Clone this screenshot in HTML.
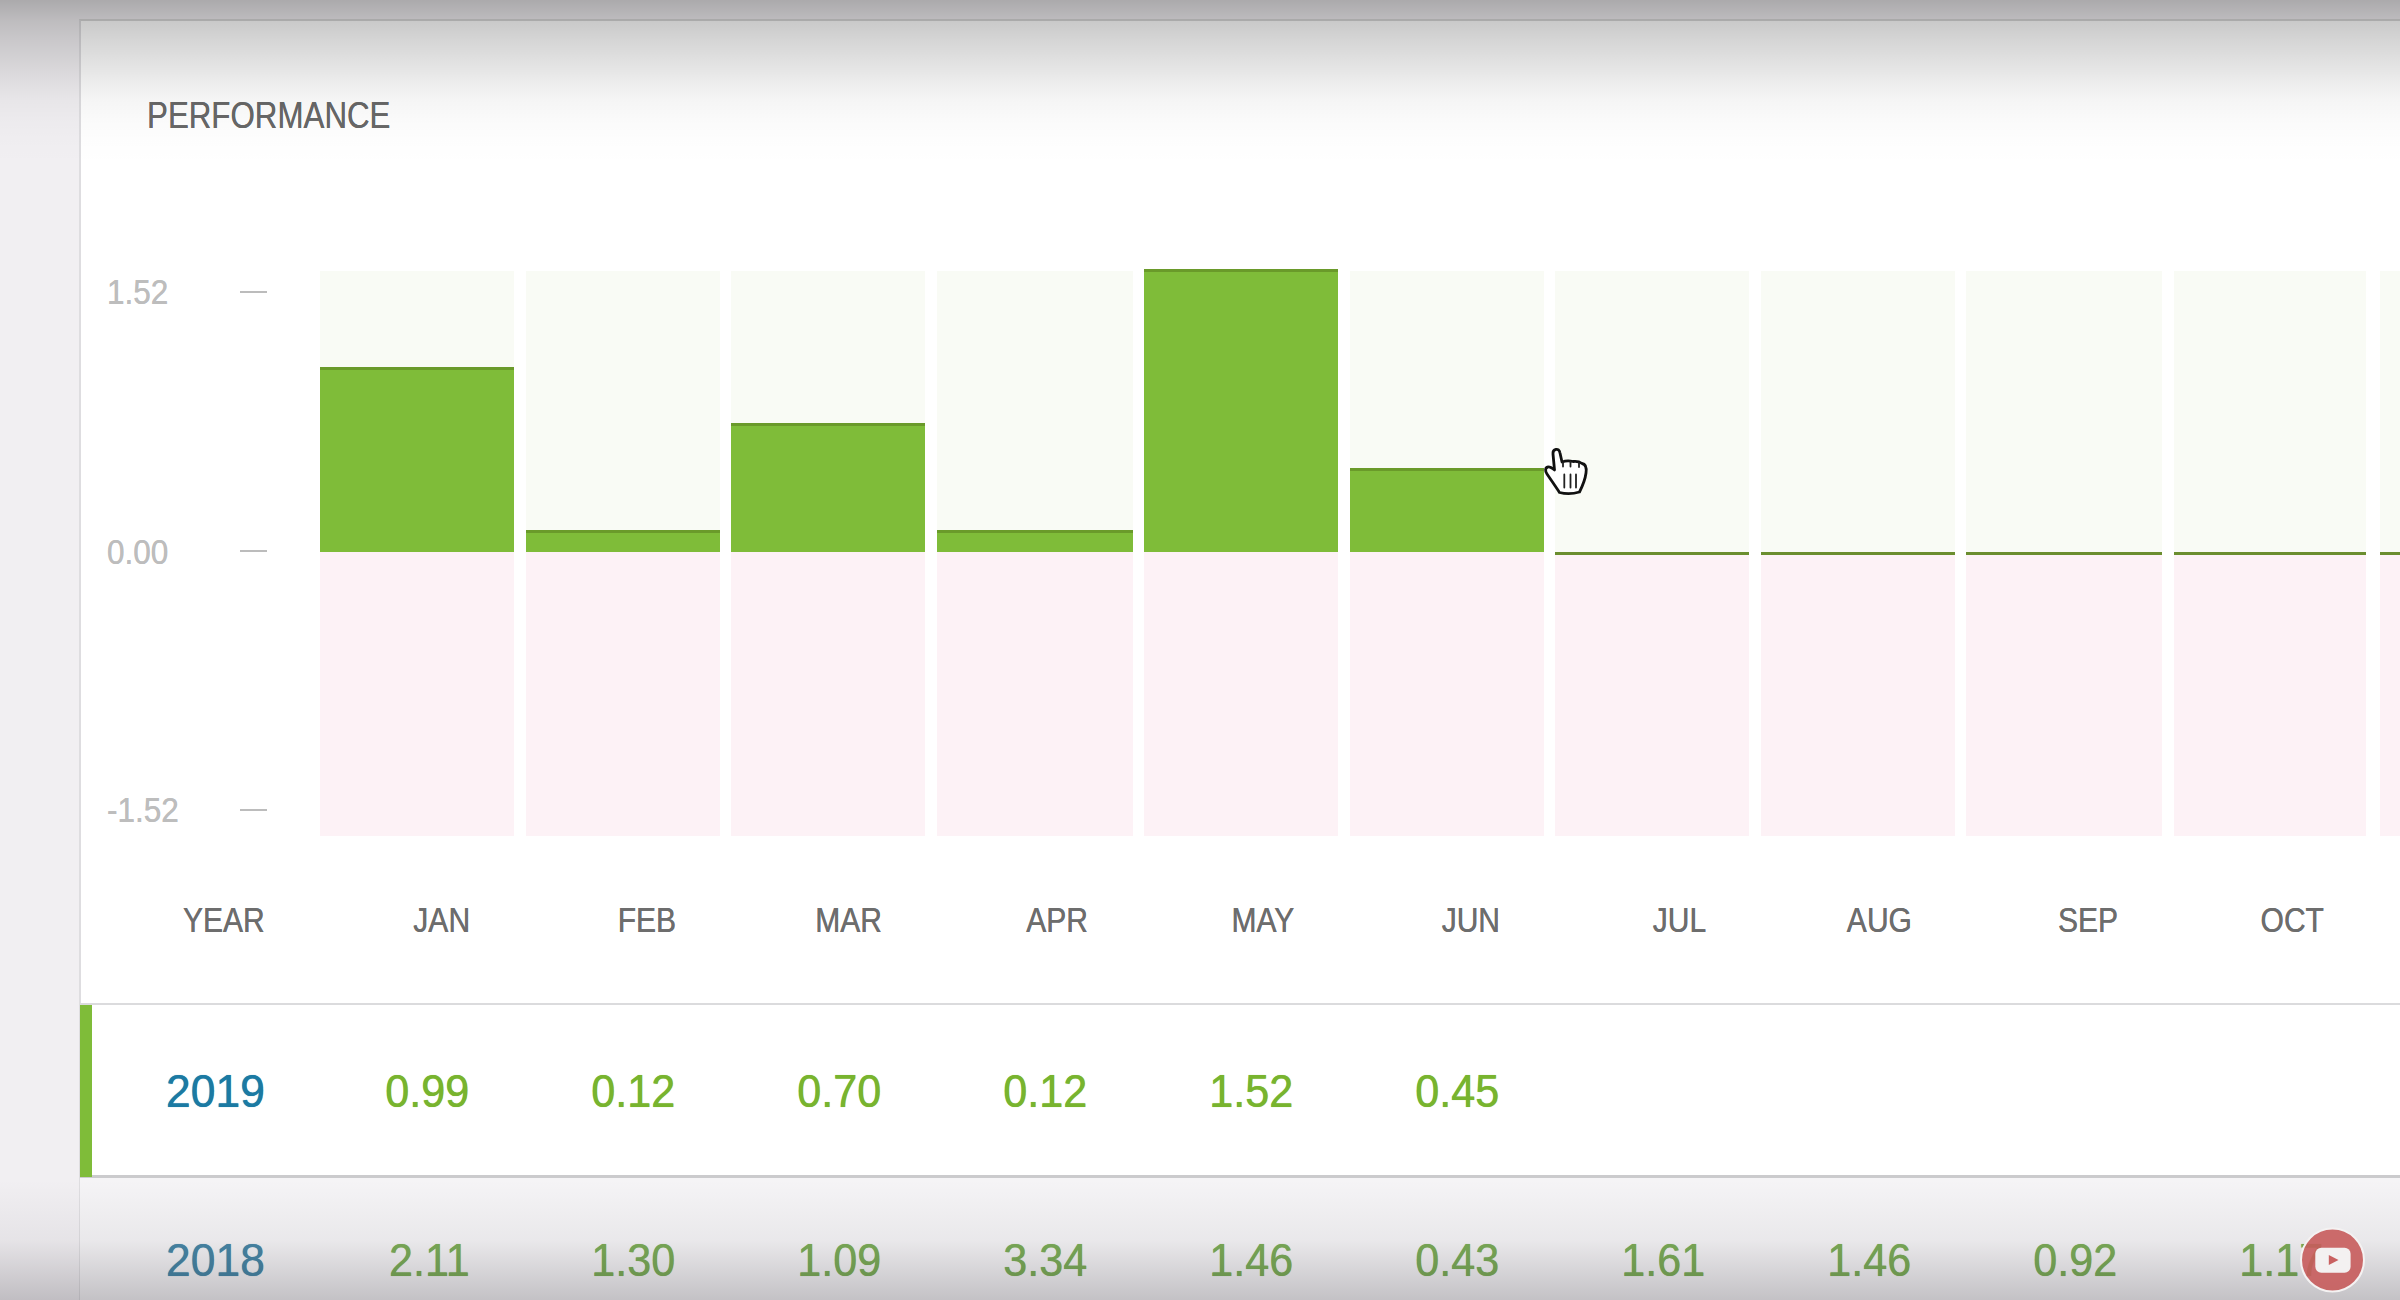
<!DOCTYPE html>
<html><head><meta charset="utf-8">
<style>
html,body{margin:0;padding:0;width:2400px;height:1300px;overflow:hidden;background:#f1eff2;}
body{position:relative;font-family:"Liberation Sans",sans-serif;}
#w{position:absolute;left:-12px;top:-12px;width:2424px;height:1324px;background:#f1eff2;}
#in{position:absolute;left:12px;top:12px;width:2400px;height:1300px;}
.abs{position:absolute;}
#card{position:absolute;left:79px;top:19px;width:2400px;height:1300px;background:#fff;border-left:2px solid #dedde0;border-top:2px solid #d8d8d8;box-sizing:border-box;}
.t{position:absolute;white-space:nowrap;line-height:1;-webkit-text-stroke:0.2px currentColor;text-shadow:0 0 0.7px currentColor;}
.col{position:absolute;top:271px;height:565px;width:194px;}
.col .up{position:absolute;left:0;top:0;width:100%;height:281px;background:#f9fbf5;}
.col .dn{position:absolute;left:0;top:281px;width:100%;height:284px;background:#fdf2f6;}
.bar{position:absolute;left:0;width:100%;background:#7fbc39;border-top:3px solid #6a9a2a;box-sizing:border-box;}
.zl{position:absolute;left:0;width:100%;top:281px;height:3px;background:#6b8e2f;}
.tick{position:absolute;left:240px;width:27px;height:2px;background:#bcbcbc;}
.ax{font-size:35px;color:#bdbdbd;transform-origin:0 0;transform:scaleX(0.9);left:106.5px;}
.mo{font-size:35.5px;color:#6d6d6d;transform-origin:100% 0;transform:scaleX(0.846);}
.num{font-size:45.8px;transform-origin:100% 0;transform:scaleX(0.941);}
.b{transform:scaleX(0.97);}
.g{color:#78b42e;}
.g2{color:#7cad58;-webkit-text-stroke:0;}
.b{color:#1b7aa3;}
</style></head><body>
<div id="w"><div id="in">
<div id="card"></div>
<div class="t" style="left:147px;top:97px;font-size:37px;color:#686868;-webkit-text-stroke:0;transform-origin:0 0;transform:scaleX(0.846);">PERFORMANCE</div>

<!-- axis -->
<div class="t ax" style="top:274px;">1.52</div>
<div class="t ax" style="top:533.5px;">0.00</div>
<div class="t ax" style="top:792px;">-1.52</div>
<div class="tick" style="top:291px;"></div>
<div class="tick" style="top:550px;"></div>
<div class="tick" style="top:809px;"></div>

<!-- columns -->
<div class="col" style="left:320px;"><div class="up"></div><div class="dn"></div><div class="bar" style="top:96px;height:185px;"></div></div>
<div class="col" style="left:526px;"><div class="up"></div><div class="dn"></div><div class="bar" style="top:259px;height:22px;"></div></div>
<div class="col" style="left:731px;"><div class="up"></div><div class="dn"></div><div class="bar" style="top:152px;height:129px;"></div></div>
<div class="col" style="left:937px;width:196px;"><div class="up"></div><div class="dn"></div><div class="bar" style="top:259px;height:22px;"></div></div>
<div class="col" style="left:1144px;"><div class="up"></div><div class="dn"></div><div class="bar" style="top:-2px;height:283px;"></div></div>
<div class="col" style="left:1350px;"><div class="up"></div><div class="dn"></div><div class="bar" style="top:197px;height:84px;"></div></div>
<div class="col" style="left:1555px;"><div class="up"></div><div class="dn"></div><div class="zl"></div></div>
<div class="col" style="left:1761px;"><div class="up"></div><div class="dn"></div><div class="zl"></div></div>
<div class="col" style="left:1966px;width:196px;"><div class="up"></div><div class="dn"></div><div class="zl"></div></div>
<div class="col" style="left:2174px;width:192px;"><div class="up"></div><div class="dn"></div><div class="zl"></div></div>
<div class="col" style="left:2380px;"><div class="up"></div><div class="dn"></div><div class="zl"></div></div>

<!-- month labels (right aligned) -->
<div class="t mo" style="right:2135px;top:903px;">YEAR</div>
<div class="t mo" style="right:1930px;top:903px;">JAN</div>
<div class="t mo" style="right:1724px;top:903px;">FEB</div>
<div class="t mo" style="right:1518px;top:903px;">MAR</div>
<div class="t mo" style="right:1312px;top:903px;">APR</div>
<div class="t mo" style="right:1106px;top:903px;">MAY</div>
<div class="t mo" style="right:900px;top:903px;">JUN</div>
<div class="t mo" style="right:694px;top:903px;">JUL</div>
<div class="t mo" style="right:488px;top:903px;">AUG</div>
<div class="t mo" style="right:282px;top:903px;">SEP</div>
<div class="t mo" style="right:76px;top:903px;">OCT</div>

<!-- rows -->
<div class="abs" style="left:80px;top:1003px;width:2320px;height:2px;background:#dbdbdd;"></div>
<div class="abs" style="left:80px;top:1178px;width:2320px;height:122px;background:#f5f4f6;"></div>
<div class="abs" style="left:80px;top:1175px;width:2320px;height:3px;background:#cbcbcd;"></div>
<div class="abs" style="left:80px;top:1005px;width:12px;height:172px;background:#7fbc39;"></div>

<div class="t num b" style="right:2135.5px;top:1068.5px;">2019</div>
<div class="t num g" style="right:1930.5px;top:1068.5px;">0.99</div>
<div class="t num g" style="right:1724.5px;top:1068.5px;">0.12</div>
<div class="t num g" style="right:1518.5px;top:1068.5px;">0.70</div>
<div class="t num g" style="right:1312.5px;top:1068.5px;">0.12</div>
<div class="t num g" style="right:1106.5px;top:1068.5px;">1.52</div>
<div class="t num g" style="right:900.5px;top:1068.5px;">0.45</div>

<div class="t num b" style="right:2135.5px;top:1237.5px;color:#4787a7;-webkit-text-stroke:0;">2018</div>
<div class="t num g2" style="right:1930.5px;top:1237.5px;">2.11</div>
<div class="t num g2" style="right:1724.5px;top:1237.5px;">1.30</div>
<div class="t num g2" style="right:1518.5px;top:1237.5px;">1.09</div>
<div class="t num g2" style="right:1312.5px;top:1237.5px;">3.34</div>
<div class="t num g2" style="right:1106.5px;top:1237.5px;">1.46</div>
<div class="t num g2" style="right:900.5px;top:1237.5px;">0.43</div>
<div class="t num g2" style="right:694.5px;top:1237.5px;">1.61</div>
<div class="t num g2" style="right:488.5px;top:1237.5px;">1.46</div>
<div class="t num g2" style="right:282.5px;top:1237.5px;">0.92</div>
<div class="t num g2" style="right:76.5px;top:1237.5px;">1.17</div>

<!-- vignettes -->
<div class="abs" style="left:-12px;top:-12px;width:2424px;height:182px;background:linear-gradient(to bottom,rgba(0,0,0,0.30) 0px,rgba(0,0,0,0.29) 12px,rgba(0,0,0,0.22) 31px,rgba(0,0,0,0.21) 33px,rgba(0,0,0,0.165) 52px,rgba(0,0,0,0.12) 72px,rgba(0,0,0,0.078) 92px,rgba(0,0,0,0.04) 112px,rgba(0,0,0,0.02) 132px,rgba(0,0,0,0.008) 152px,rgba(0,0,0,0) 177px);"></div>
<div class="abs" style="left:0;top:1180px;width:2400px;height:120px;background:linear-gradient(to bottom,rgba(0,0,0,0) 0%,rgba(20,15,25,0.05) 50%,rgba(20,15,25,0.22) 100%);"></div>

<!-- youtube -->
<svg class="abs" style="left:2299px;top:1226px;" width="68" height="68" viewBox="0 0 68 68">
<circle cx="33.5" cy="34" r="31.5" fill="rgba(200,92,92,0.9)" stroke="#f4f2f2" stroke-width="2"/>
<rect x="16.3" y="21.7" width="35.3" height="25" rx="6" fill="#f3f1f1"/>
<path d="M29.8 29 L39.5 34 L29.8 39 Z" fill="#c96161"/>
</svg>

<!-- cursor -->
<svg class="abs" style="left:1540px;top:445px;" width="52" height="55" viewBox="0 0 52 55">
<path d="M19.5 47.5 C16 42 11 35 7 29 C5 26 5 22.5 8 22 C10 21.5 12 23 14.5 25 L13 9 C12.5 4 19 2 20 8 L22 17 C26 15.5 29 15.5 33 16.5 C37 16 40 17 42 18.5 C46 19 46.5 24 46 28 C45 36 42 42 39.5 47 C33 49 25 49 19.5 47.5 Z" fill="#fff" stroke="#111" stroke-width="2.8" stroke-linejoin="round"/>
<path d="M23 17.5 L23 21.5 M30.5 16.5 L30.5 21.5 M39 18 L39 22 M24.3 29.5 L24.3 42.5 M30.5 29.5 L30.5 42.5 M36 29.5 L36 42.5" stroke="#222" stroke-width="1.8" stroke-linecap="round"/>
</svg>
</div></div>
</body></html>
